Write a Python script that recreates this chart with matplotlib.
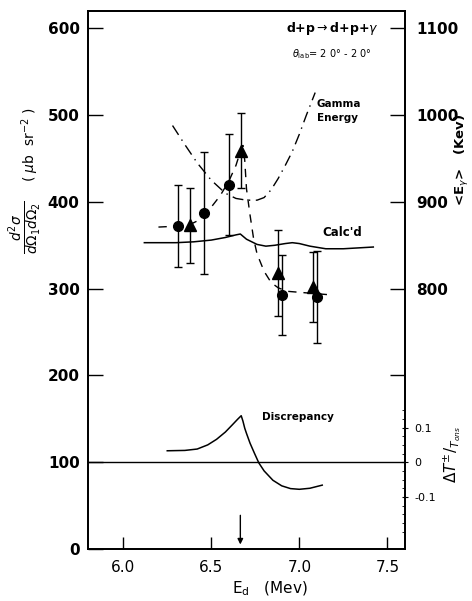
import matplotlib
matplotlib.use("Agg")
import matplotlib.pyplot as plt
import numpy as np

# ---- data ----
# measured points: circles and triangles (E_d in MeV, cross section in ub sr^-2)
circ_E = [6.31, 6.46, 6.60, 6.90, 7.10]
circ_s = [372, 387, 420, 293, 290]
circ_err = [47, 70, 58, 46, 53]
tri_E = [6.38, 6.67, 6.88, 7.08]
tri_s = [373, 459, 318, 302]
tri_err = [43, 43, 50, 40]

# dashed curve through the data
dash_E = [6.20, 6.30, 6.38, 6.42, 6.46, 6.50, 6.55, 6.60, 6.64, 6.665, 6.68,
          6.69, 6.70, 6.72, 6.74, 6.76, 6.80, 6.84, 6.88, 6.93, 7.05, 7.17]
dash_s = [371, 372, 374, 378, 385, 394, 407, 424, 442, 458, 465,
          448, 415, 385, 358, 340, 320, 307, 301, 297, 295, 293]

# calculated curve
calc_E = [6.12, 6.30, 6.40, 6.50, 6.58, 6.64, 6.665, 6.70, 6.76, 6.81, 6.86,
          6.92, 6.96, 7.00, 7.06, 7.15, 7.25, 7.42]
calc_s = [353, 353, 354, 356, 359, 362, 363, 357, 351, 349, 350,
          352, 353, 352, 349, 346, 346, 348]

# gamma energy (keV, right axis)
gam_E = [6.28, 6.35, 6.42, 6.50, 6.58, 6.64, 6.70, 6.76, 6.80, 6.84, 6.88,
         6.92, 6.96, 7.00, 7.04, 7.09]
gam_k = [988, 966, 945, 925, 910, 904, 902, 902, 905, 914, 927,
         942, 958, 978, 1000, 1026]

# discrepancy (Delta T / T_ons)
disc_E = [6.25, 6.35, 6.42, 6.48, 6.53, 6.58, 6.62, 6.65, 6.67, 6.68, 6.69,
          6.70, 6.72, 6.745, 6.77, 6.80, 6.85, 6.90, 6.95, 7.00, 7.06, 7.13]
disc_d = [0.033, 0.034, 0.038, 0.050, 0.066, 0.087, 0.108, 0.124, 0.134, 0.118, 0.098,
          0.083, 0.055, 0.026, -0.002, -0.025, -0.052, -0.068, -0.076, -0.078, -0.075, -0.066]

arrow_E = 6.665

x_ticks = [6.0, 6.5, 7.0, 7.5]
x_labels = ["6.0", "6.5", "7.0", "7.5"]
left_ticks = [0, 100, 200, 300, 400, 500, 600]
right_ticks = [700, 800, 900, 1000, 1100]
right_labels = ["", "800", "900", "1000", "1100"]
disc_ticks = [-0.1, 0.0, 0.1]
disc_labels = ["-0.1", "0", "0.1"]

# ---- figure ----
fig = plt.figure(figsize=(4.72, 6.01), dpi=100)
ax = fig.add_axes([88/472, 1-549/601, (405-88)/472, (549-11)/601])
ax.set_xlim(5.80, 7.60)
ax.set_ylim(0, 620)

ax.set_xticks(x_ticks)
ax.set_xticklabels(x_labels, fontsize=11)
ax.set_yticks(left_ticks)
ax.set_yticklabels([str(t) for t in left_ticks], fontsize=11, fontweight="bold")
ax.tick_params(axis="y", direction="in", length=11, width=1, pad=6, right=False)
ax.tick_params(axis="x", direction="in", length=9, width=1, pad=8, top=False)
for s in ax.spines.values():
    s.set_linewidth(1.1)

# zero line of discrepancy (at 100)
ax.axhline(100, color="black", lw=1.0)

# curves
ax.plot(calc_E, calc_s, color="black", lw=1.1)
ax.plot(dash_E, dash_s, color="black", lw=1.0, ls=(0, (6, 5)))

# data
ax.errorbar(circ_E, circ_s, yerr=circ_err, fmt="o", color="black", ms=7,
            ecolor="black", elinewidth=1, capsize=3, capthick=1)
ax.errorbar(tri_E, tri_s, yerr=tri_err, fmt="^", color="black", ms=8,
            ecolor="black", elinewidth=1, capsize=3, capthick=1)

# arrow
ax.annotate("", xy=(arrow_E, 2), xytext=(arrow_E, 42),
            arrowprops=dict(arrowstyle="-|>", color="black", lw=1, mutation_scale=8))

# gamma energy axis
ax2 = ax.twinx()
ax2.set_ylim(500, 1120)
ax2.plot(gam_E, gam_k, color="black", lw=1.0, ls=(0, (8, 4, 1, 4)))
ax2.set_yticks(right_ticks)
ax2.set_yticklabels(right_labels, fontsize=11, fontweight="bold")
ax2.tick_params(axis="y", direction="in", length=11, width=1, pad=8)

# discrepancy axis
ax3 = ax.twinx()
ax3.set_ylim(-0.25, 1.3)
ax3.plot(disc_E, disc_d, color="black", lw=1.1)
ax3.set_yticks(disc_ticks)
ax3.set_yticklabels(disc_labels, fontsize=8)
ax3.set_yticks(np.arange(-0.2, 0.16, 0.025), minor=True)
ax3.tick_params(axis="y", which="major", direction="inout", length=5, width=0.8, pad=4)
ax3.tick_params(axis="y", which="minor", direction="in", length=2.5, width=0.6)
for a in (ax2, ax3):
    for s in a.spines.values():
        s.set_linewidth(1.1)

# annotations
ax.text(0.77, 0.967, r"d+p$\rightarrow$d+p+$\gamma$", transform=ax.transAxes,
        ha="center", va="center", fontsize=9, fontweight="bold")
ax.text(0.77, 0.92, r"$\theta_{\rm lab}$= 2 0° - 2 0°", transform=ax.transAxes,
        ha="center", va="center", fontsize=7)
ax.text(7.10, 505, "Gamma\nEnergy", ha="left", va="center", fontsize=7.5,
        fontweight="bold", linespacing=1.5)
ax.text(7.13, 365, "Calc'd", ha="left", va="center", fontsize=8.5, fontweight="bold")
ax.text(6.79, 152, "Discrepancy", ha="left", va="center", fontsize=7.5, fontweight="bold")

# axis labels
fig.text(25/472, 1-227/601, r"$\frac{d^2\sigma}{d\Omega_1 d\Omega_2}$",
         rotation=90, ha="center", va="center", fontsize=14)
fig.text(30/472, 1-145/601, r"( $\mu$b  sr$^{-2}$ )", rotation=90,
         ha="center", va="center", fontsize=10)
fig.text(462/472, 1-160/601, r"<E$_\gamma$>   (Kev)", rotation=90,
         ha="center", va="center", fontsize=9.5, fontweight="bold")
fig.text(452/472, 1-454/601, r"$\Delta T^{\pm}/_{T_{ons}}$", rotation=90,
         ha="center", va="center", fontsize=11)
fig.text(270/472, 1-589/601, r"E$_{\rm d}$   (Mev)", ha="center", va="center",
         fontsize=11)

fig.savefig("out.png", dpi=100)
